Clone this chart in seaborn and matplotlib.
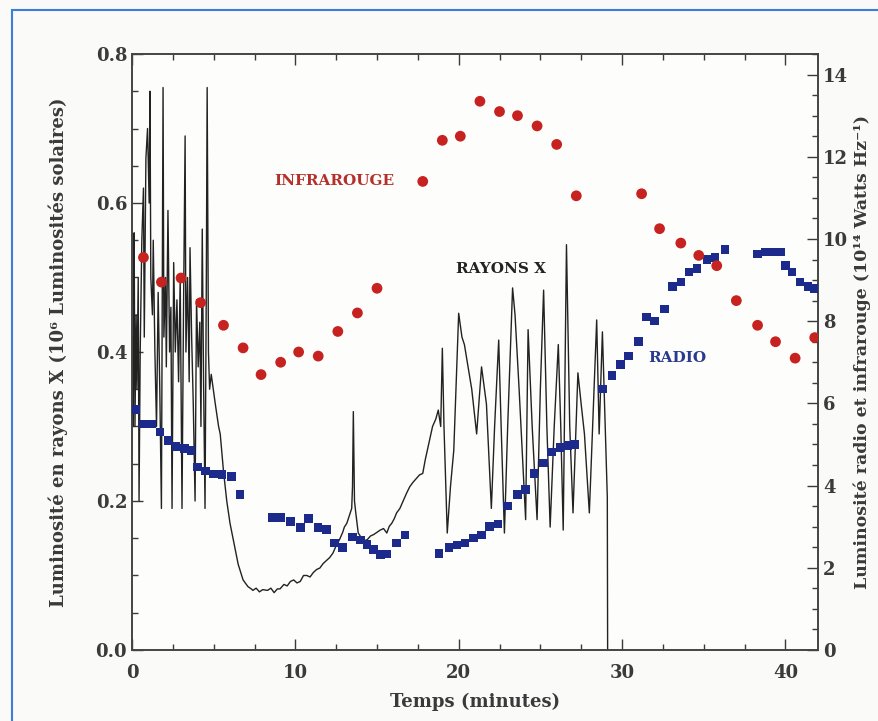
import numpy as np
import pandas as pd
import matplotlib
matplotlib.use("Agg")
import matplotlib.pyplot as plt
import seaborn as sns
from matplotlib.ticker import MultipleLocator
from matplotlib.patches import Rectangle

# X-ray light curve (minutes, 10^6 solar luminosities)
xray_t = [0.0, 0.05, 0.1, 0.13, 0.18, 0.25, 0.3, 0.38, 0.43, 0.5, 0.6, 0.7, 0.75, 0.85,
          0.95, 1.05, 1.1, 1.15, 1.25, 1.3, 1.4, 1.5, 1.6, 1.7, 1.8, 1.9, 1.95, 2.05,
          2.1, 2.2, 2.3, 2.38, 2.45, 2.55, 2.65, 2.75, 2.85, 2.95, 3.06, 3.15, 3.25,
          3.3, 3.4, 3.5, 3.55, 3.65, 3.75, 3.86, 3.95, 4.05, 4.15, 4.22, 4.3, 4.38,
          4.47, 4.55, 4.6, 4.68, 4.75, 4.85,
          5.1, 5.3, 5.4, 5.6, 5.8, 6.0, 6.2, 6.5, 6.8, 7.0, 7.1, 7.3, 7.4, 7.6, 7.8,
          8.0, 8.3, 8.5, 8.7, 8.9, 9.06, 9.3, 9.5, 9.7, 9.9, 10.1, 10.3, 10.5, 10.7,
          10.9, 11.1, 11.3, 11.5, 11.7, 11.9, 12.1, 12.3, 12.5, 12.7, 12.9, 13.0,
          13.15, 13.3, 13.45, 13.5, 13.55, 13.62, 13.7, 13.85, 14.0, 14.1, 14.25,
          14.4, 14.6, 14.8, 15.0, 15.2, 15.4, 15.6, 15.75, 15.9, 16.05, 16.2, 16.4,
          16.6, 16.8, 17.0, 17.2, 17.4, 17.6, 17.8, 17.95, 18.1, 18.25, 18.4, 18.6,
          18.75, 18.9, 19.0, 19.1, 19.3, 19.5, 19.7, 19.85, 20.0, 20.2, 20.35, 20.5,
          20.65, 20.8, 21.1, 21.4, 21.7, 22.0, 22.2, 22.45, 22.6, 22.8, 23.0, 23.3,
          23.45, 23.7, 24.1, 24.25, 24.5, 24.8, 25.0, 25.2, 25.4, 25.6, 25.85, 26.1,
          26.25, 26.4, 26.6, 26.8, 27.0, 27.3, 27.5, 27.7, 28.0, 28.2, 28.45, 28.6,
          28.8, 29.0, 29.1, 29.12]
xray_lum = [0.42, 0.30, 0.38, 0.56, 0.30, 0.45, 0.35, 0.50, 0.20, 0.40, 0.55, 0.62, 0.42, 0.66,
            0.70, 0.60, 0.75, 0.50, 0.45, 0.55, 0.40, 0.30, 0.48, 0.35, 0.19, 0.755, 0.42, 0.50,
            0.38, 0.59, 0.40, 0.46, 0.19, 0.52, 0.40, 0.47, 0.36, 0.50, 0.19, 0.45, 0.69,
            0.40, 0.50, 0.36, 0.54, 0.42, 0.33, 0.20, 0.47, 0.38, 0.44, 0.30, 0.565, 0.36,
            0.19, 0.50, 0.755, 0.40, 0.35, 0.37,
            0.33, 0.30, 0.29, 0.24, 0.20, 0.17, 0.148, 0.115, 0.094, 0.088, 0.085, 0.082, 0.08, 0.083, 0.078,
            0.081, 0.08, 0.083, 0.077, 0.082, 0.082, 0.088, 0.086, 0.092, 0.094, 0.09, 0.092, 0.10, 0.10,
            0.098, 0.104, 0.108, 0.11, 0.116, 0.12, 0.124, 0.13, 0.14, 0.148, 0.158, 0.165,
            0.17, 0.18, 0.19, 0.22, 0.32, 0.20, 0.184, 0.157, 0.152, 0.15, 0.147,
            0.148, 0.153, 0.155, 0.158, 0.161, 0.163, 0.157, 0.166, 0.17, 0.176, 0.184, 0.19,
            0.20, 0.21, 0.219, 0.225, 0.23, 0.235, 0.237, 0.255, 0.27, 0.285, 0.30, 0.31,
            0.322, 0.30, 0.405, 0.30, 0.157, 0.22, 0.268, 0.36, 0.452, 0.42, 0.41, 0.39,
            0.37, 0.35, 0.29, 0.38, 0.33, 0.19, 0.30, 0.416, 0.30, 0.157, 0.30, 0.486,
            0.45, 0.35, 0.175, 0.43, 0.30, 0.175, 0.35, 0.483, 0.30, 0.165, 0.30, 0.41,
            0.30, 0.161, 0.544, 0.30, 0.184, 0.372, 0.33, 0.29, 0.184, 0.30, 0.443, 0.29,
            0.427, 0.28, 0.205, 0.0]

# Infrared (10^14 W/Hz)
ir_t = [0.7, 1.8, 3.0, 4.2, 5.6, 6.8, 7.9, 9.1, 10.2, 11.4, 12.6, 13.8, 15.0, 17.8, 19.0,
        20.1, 21.3, 22.5, 23.6, 24.8, 26.0, 27.2, 31.2, 32.3, 33.6, 34.7, 35.8, 37.0,
        38.3, 39.4, 40.6, 41.8]
ir_lum = [9.55, 8.95, 9.05, 8.45, 7.9, 7.35, 6.7, 7.0, 7.25, 7.15, 7.75, 8.2, 8.8, 11.4, 12.4,
          12.5, 13.35, 13.1, 13.0, 12.75, 12.3, 11.05, 11.1, 10.25, 9.9, 9.6, 9.35, 8.5,
          7.9, 7.5, 7.1, 7.6]

# Radio (10^14 W/Hz)
radio_t = [0.2, 0.7, 1.2, 1.7, 2.2, 2.7, 3.2, 3.6, 4.0, 4.5, 5.0, 5.5, 6.1, 6.6, 8.6, 9.1,
           9.7, 10.3, 10.8, 11.4, 11.9, 12.4, 12.9, 13.5, 14.0, 14.4, 14.8, 15.2, 15.6,
           16.2, 16.7, 18.8, 19.4, 19.9, 20.4, 20.9, 21.4, 21.9, 22.4, 23.0, 23.6, 24.1,
           24.6, 25.2, 25.7, 26.2, 26.7, 27.1, 28.8, 29.4, 29.9, 30.4, 31.0, 31.5, 32.0,
           32.6, 33.1, 33.6, 34.1, 34.6, 35.2, 35.7, 36.3, 38.3, 38.8, 39.3, 39.7, 40.0,
           40.4, 40.9, 41.4, 41.8]
radio_lum = [5.85, 5.5, 5.5, 5.3, 5.1, 4.95, 4.9, 4.85, 4.45, 4.35, 4.28, 4.27, 4.22, 3.78, 3.22, 3.22,
             3.12, 2.98, 3.2, 2.98, 2.93, 2.6, 2.5, 2.75, 2.68, 2.56, 2.45, 2.32, 2.33,
             2.6, 2.8, 2.35, 2.5, 2.55, 2.6, 2.72, 2.8, 3.0, 3.07, 3.5, 3.78, 3.9,
             4.3, 4.55, 4.82, 4.92, 4.97, 5.0, 6.35, 6.68, 6.95, 7.15, 7.5, 8.1, 8.0,
             8.3, 8.85, 8.95, 9.2, 9.28, 9.5, 9.55, 9.75, 9.63, 9.68, 9.68, 9.68, 9.35,
             9.2, 8.95, 8.85, 8.8]

xray = pd.DataFrame({"t": xray_t, "lum": xray_lum})
ir = pd.DataFrame({"t": ir_t, "lum": ir_lum})
radio = pd.DataFrame({"t": radio_t, "lum": radio_lum})

sns.set_theme(style="ticks")
plt.rcParams["font.family"] = ["DejaVu Serif"]
plt.rcParams["font.weight"] = "bold"
plt.rcParams["axes.labelweight"] = "bold"

ink = "#3a3a3a"
fig = plt.figure(figsize=(8.79, 7.21), dpi=100, facecolor="#fafaf9")
ax = fig.add_axes([0.1502, 0.0985, 0.7804, 0.8266], facecolor="#fdfdfc")

sns.lineplot(data=xray, x="t", y="lum", ax=ax, color="#222222", lw=1.0,
             estimator=None, sort=False)
ax.set_xlim(0, 42)
ax.set_ylim(0, 0.8)
ax.xaxis.set_major_locator(MultipleLocator(10))
ax.xaxis.set_minor_locator(MultipleLocator(2.5))
ax.yaxis.set_major_locator(MultipleLocator(0.2))
ax.yaxis.set_minor_locator(MultipleLocator(0.05))
ax.yaxis.set_major_formatter(lambda v, p: f"{v:.1f}")
ax.tick_params(which="both", direction="in", top=True, right=False, colors=ink,
               labelsize=13, width=1)
ax.tick_params(axis="x", which="both", pad=10)
ax.tick_params(which="major", length=8)
ax.tick_params(which="minor", length=4)
ax.set_xlabel("Temps (minutes)", fontsize=13, color=ink, labelpad=8)
ax.set_ylabel("Luminosité en rayons X (10⁶ Luminosités solaires)", fontsize=13,
              color=ink, labelpad=20)
for s in ax.spines.values():
    s.set_color("#444444")
    s.set_linewidth(1.2)

ax2 = ax.twinx()
sns.scatterplot(data=radio, x="t", y="lum", ax=ax2, marker="s", s=38,
                color="#1c2a8c", edgecolor="none", zorder=3)
sns.scatterplot(data=ir, x="t", y="lum", ax=ax2, marker="o", s=60,
                color="#c62320", edgecolor="none", zorder=4)
ax2.set_ylim(0, 14.5)
ax2.set_xlim(0, 42)
ax2.yaxis.set_major_locator(MultipleLocator(2))
ax2.yaxis.set_minor_locator(MultipleLocator(0.5))
ax2.tick_params(which="both", direction="in", colors=ink, labelsize=13, width=1)
ax2.tick_params(which="major", length=8)
ax2.tick_params(which="minor", length=4)
ax2.set_ylabel("Luminosité radio et infrarouge (10¹⁴ Watts Hz⁻¹)", fontsize=12.5,
               color=ink, labelpad=4)
ax2.set_xlabel("")
for s in ax2.spines.values():
    s.set_color("#444444")
    s.set_linewidth(1.2)

ax.text(12.4, 0.63, "INFRAROUGE", color="#b5302a", fontsize=11, ha="center", va="center")
ax.text(22.6, 0.511, "RAYONS X", color="#222222", fontsize=11, ha="center", va="center")
ax.text(33.4, 0.392, "RADIO", color="#2a3a8c", fontsize=11, ha="center", va="center")

# blue frame of the scanned page (only top and left edges fall inside)
fig.patches.append(Rectangle((12 / 879, -0.1), 1.2, 1.1 - 10 / 721, transform=fig.transFigure,
                             fill=False, edgecolor="#3b7dd8", lw=1.5))

fig.savefig("out.png", dpi=100, facecolor=fig.get_facecolor())
